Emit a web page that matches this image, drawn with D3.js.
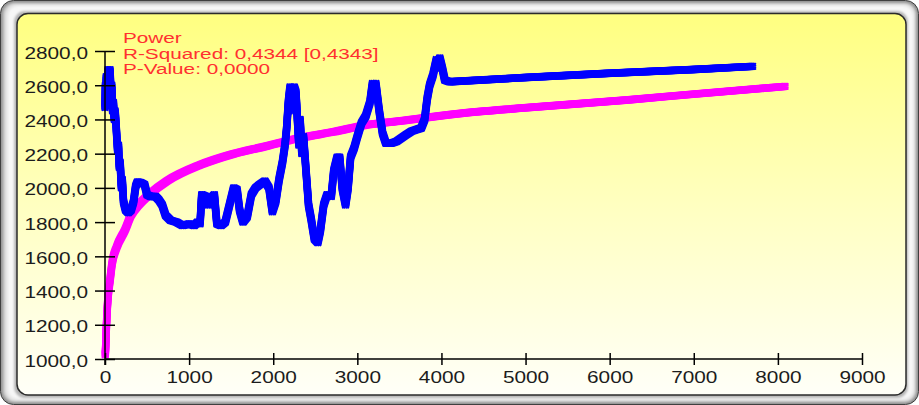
<!DOCTYPE html>
<html>
<head>
<meta charset="utf-8">
<script src="https://cdn.jsdelivr.net/npm/d3@7"></script>
<style>
  html, body { margin: 0; padding: 0; background: #ffffff; }
  svg { display: block; }
  text { font-family: "Liberation Sans", Arial, sans-serif; }
</style>
</head>
<body>
<svg id="chart" width="919" height="405"></svg>
<script>
// ---- data ----
const xTicks = [0, 1000, 2000, 3000, 4000, 5000, 6000, 7000, 8000, 9000];
const yTicks = [1000, 1200, 1400, 1600, 1800, 2000, 2200, 2400, 2600, 2800];
const yTickLabels = ["1000,0", "1200,0", "1400,0", "1600,0", "1800,0", "2000,0", "2200,0", "2400,0", "2600,0", "2800,0"];
const fitLines = ["Power", "R-Squared: 0,4344 [0,4343]", "P-Value: 0,0000"];

// observed series (blue)
const obsX = [0, 5, 10, 15, 25, 35, 50, 60, 70, 80, 90, 100, 110, 120, 130, 140, 150, 160, 170, 180, 195, 205, 220, 245, 275, 310, 340, 365, 385, 430, 470, 500, 540, 600, 640, 680, 720, 780, 850, 920, 1000, 1060, 1100, 1130, 1150, 1200, 1230, 1260, 1300, 1330, 1380, 1430, 1480, 1530, 1570, 1600, 1640, 1690, 1740, 1790, 1840, 1900, 1950, 1990, 2030, 2070, 2110, 2140, 2160, 2180, 2200, 2230, 2250, 2270, 2290, 2305, 2320, 2340, 2360, 2390, 2420, 2450, 2490, 2530, 2560, 2600, 2640, 2690, 2720, 2760, 2790, 2820, 2860, 2890, 2920, 2960, 3000, 3050, 3100, 3150, 3180, 3200, 3220, 3260, 3300, 3340, 3400, 3460, 3520, 3580, 3640, 3700, 3760, 3800, 3830, 3860, 3900, 3940, 3960, 3980, 4010, 4040, 4100, 5000, 6000, 7000, 7700];
const obsY = [2470, 2600, 2480, 2650, 2560, 2690, 2620, 2690, 2560, 2600, 2450, 2500, 2400, 2450, 2380, 2300, 2220, 2250, 2120, 2150, 2000, 2050, 1920, 1870, 1855, 1870, 1920, 2010, 2035, 2030, 2020, 1960, 1950, 1950, 1930, 1900, 1840, 1810, 1800, 1780, 1790, 1780, 1800, 1790, 1960, 1950, 1900, 1940, 1960, 1790, 1780, 1800, 1900, 2000, 1990, 1870, 1800, 1830, 1960, 2000, 2020, 2040, 2000, 1860, 1920, 2050, 2150, 2250, 2350, 2500, 2590, 2450, 2590, 2560, 2380, 2250, 2400, 2200, 2300, 2100, 1900, 1820, 1700, 1680, 1750, 1900, 1960, 1950, 2100, 2180, 2180, 2000, 1900, 2000, 2180, 2230, 2300, 2380, 2420, 2500, 2610, 2540, 2610, 2450, 2320, 2260, 2260, 2270, 2290, 2310, 2330, 2340, 2350, 2400, 2520, 2600, 2660, 2750, 2700, 2760, 2700, 2630, 2620, 2645, 2670, 2692, 2710];

// power fit (magenta)
const fitX = [3, 8, 15, 24, 36, 60, 85, 140, 238, 310, 400, 535, 737, 1130, 1522, 1926, 2319, 2711, 3115, 3507, 4221, 5000, 6207, 7000, 8085];
const fitY = [1025, 1070, 1170, 1269, 1362, 1462, 1561, 1655, 1754, 1840, 1900, 1965, 2040, 2134, 2198, 2245, 2292, 2327, 2368, 2391, 2435, 2468, 2514, 2548, 2593];

// ---- layout ----
const W = 919, H = 405;
const svg = d3.select("#chart");
const defs = svg.append("defs");

const panelGrad = defs.append("linearGradient").attr("id", "panelFill")
  .attr("x1", 0).attr("y1", 0).attr("x2", 0).attr("y2", 1);
panelGrad.append("stop").attr("offset", "0%").attr("stop-color", "#ffff80");
panelGrad.append("stop").attr("offset", "50%").attr("stop-color", "#ffffc0");
panelGrad.append("stop").attr("offset", "100%").attr("stop-color", "#fffff8");

const soft = defs.append("filter").attr("id", "soft")
  .attr("x", "-2%").attr("y", "-2%").attr("width", "104%").attr("height", "104%");
soft.append("feGaussianBlur").attr("stdDeviation", 1.2);

// bevelled outer frame
const frame = svg.append("g");
frame.append("rect").attr("x", 0.5).attr("y", 0.5).attr("width", W - 1).attr("height", H - 1)
  .attr("rx", 13).attr("fill", "#8f8f8f").attr("stroke", "#3a3a3a");
const bevel = frame.append("g").attr("filter", "url(#soft)");
bevel.append("rect").attr("x", 2.5).attr("y", 2.5).attr("width", W - 5).attr("height", H - 5)
  .attr("rx", 12).attr("fill", "#c4c4c4");
bevel.append("rect").attr("x", 5).attr("y", 4).attr("width", W - 9).attr("height", H - 8)
  .attr("rx", 11).attr("fill", "#e6e6e6");
bevel.append("rect").attr("x", 8).attr("y", 6).attr("width", W - 14).attr("height", H - 12)
  .attr("rx", 10).attr("fill", "#f7f7f7");
bevel.append("rect").attr("x", 14).attr("y", 11).attr("width", 894).attr("height", 387)
  .attr("rx", 11).attr("fill", "#b5b5b5");

// chart panel
svg.append("rect").attr("x", 17).attr("y", 13.5).attr("width", 889).attr("height", 381.5)
  .attr("rx", 11).attr("fill", "url(#panelFill)").attr("stroke", "#2b2b2b").attr("stroke-width", 1.5);

// scales
const x = d3.scaleLinear().domain([0, 9000]).range([105, 862]);
const y = d3.scaleLinear().domain([1000, 2800]).range([359, 51]);

const labelColor = "#1c1c1c";
const stretch = 1.3;

// series are drawn with a square brush: the same path stroked at a small grid of offsets
const brush = d3.cross([-2.6, -0.9, 0.9, 2.6], [-2.6, -0.9, 0.9, 2.6]);
function squareBrushPath(g, d, color) {
  g.selectAll("path").data(brush).join("path")
    .attr("d", d)
    .attr("transform", o => `translate(${o[0]},${o[1]})`)
    .attr("fill", "none").attr("stroke", color).attr("stroke-width", 2.2)
    .attr("stroke-linejoin", "round").attr("stroke-linecap", "round");
}

const lineGen = d3.line().x(d => x(d[0])).y(d => y(d[1]));
const fitLine = d3.line().x(d => x(d[0])).y(d => y(d[1])).curve(d3.curveMonotoneX);

squareBrushPath(svg.append("g").attr("class", "fit"),
  fitLine(fitX.map((v, i) => [v, fitY[i]])), "#ff00ff");
squareBrushPath(svg.append("g").attr("class", "observed"),
  lineGen(obsX.map((v, i) => [v, obsY[i]])), "#0000ff");

// y axis
const gy = svg.append("g").attr("transform", `translate(${x(0)},0)`)
  .call(d3.axisLeft(y).tickValues(yTicks).tickFormat((d, i) => yTickLabels[i]).tickSize(10));
gy.select(".domain").attr("d", `M0,${y(2800)}V${y(1000) + 6}`)
  .attr("stroke", "#000").attr("stroke-width", 1.5);
gy.selectAll(".tick line").attr("x1", -10).attr("x2", 10).attr("stroke", "#000").attr("stroke-width", 1.5);
gy.selectAll(".tick text")
  .attr("x", null).attr("dy", null)
  .attr("transform", `translate(-17,7) scale(${stretch},1)`)
  .attr("font-size", 16).attr("fill", labelColor).attr("text-anchor", "end")
  .attr("font-family", "Liberation Sans, Arial, sans-serif");

// x axis
const gx = svg.append("g").attr("transform", `translate(0,${y(1000)})`)
  .call(d3.axisBottom(x).tickValues(xTicks).tickFormat(d3.format("d")).tickSize(6));
gx.select(".domain").attr("d", `M${x(0)},0H${x(9000)}`)
  .attr("stroke", "#000").attr("stroke-width", 1.5);
gx.selectAll(".tick line").attr("y1", -6).attr("y2", 6).attr("stroke", "#000").attr("stroke-width", 1.5);
gx.selectAll(".tick text")
  .attr("y", null).attr("dy", null)
  .attr("transform", `translate(0,24) scale(${stretch},1)`)
  .attr("font-size", 16).attr("fill", labelColor).attr("text-anchor", "middle")
  .attr("font-family", "Liberation Sans, Arial, sans-serif");

// fit annotation
svg.append("g").selectAll("text")
  .data(fitLines)
  .join("text")
  .attr("transform", (d, i) => `translate(123,${43 + i * 15.7}) scale(1.48,1)`)
  .attr("font-size", 14).attr("fill", "#ff3030")
  .text(d => d);
</script>
</body>
</html>
